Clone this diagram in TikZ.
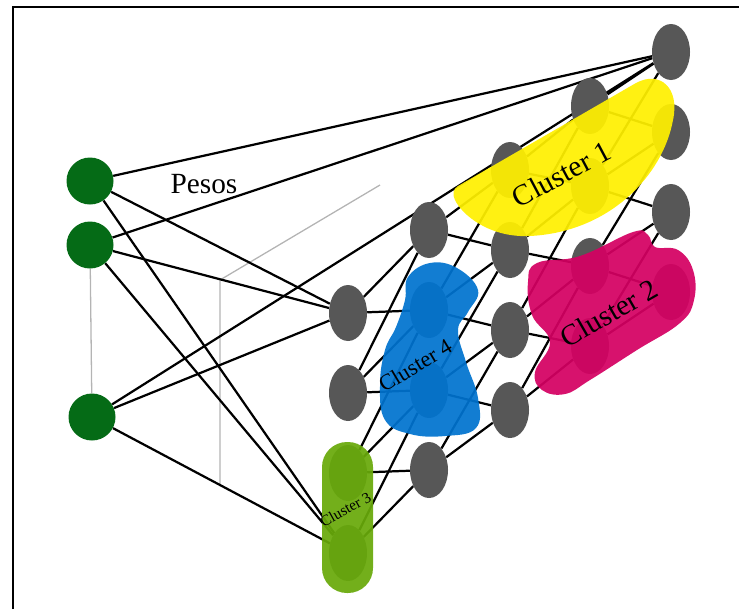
\documentclass[tikz,border=0pt]{standalone}
\usepackage{fontspec}
\setmainfont{Liberation Serif}
\usepackage{tikz}
\usetikzlibrary{shapes.geometric,backgrounds}
\definecolor{Unit}{HTML}{575757}
\definecolor{Input}{HTML}{056B16}
\definecolor{Guide}{HTML}{B4B4B4}
\definecolor{CYellow}{HTML}{FFF000}
\definecolor{CMagenta}{HTML}{D40062}
\definecolor{CBlue}{HTML}{0073CF}
\definecolor{CGreen}{HTML}{68A90A}

\begin{document}
\begin{tikzpicture}[x=0.03cm,y=-0.03cm,
  unit/.style={ellipse,fill=Unit,minimum width=1.14cm,minimum height=1.68cm,inner sep=0pt},
  input/.style={circle,fill=Input,minimum size=1.41cm,inner sep=0pt},
  link/.style={line width=1.9pt},
  guide/.style={Guide,line width=1.1pt},
  blob/.style={opacity=0.93},
  tag/.style={anchor=base,inner sep=0pt}]
\useasboundingbox (0,0) rectangle (739,609);
\draw[line width=2.3pt] (13,609) -- (13,7) -- (739,7);

\node[input] (x1) at (90,181) {};
\node[input] (x2) at (90,245) {};
\node[input] (x3) at (92,417) {};

\foreach \c/\x/\y in {1/348/313, 2/429/230, 3/510/170, 4/590/106, 5/671/52}
  \foreach \r in {1,...,4}
    \node[unit] (n\c\r) at (\x,{\y+80*(\r-1)}) {};

\begin{scope}[on background layer]
\draw[guide] (x2) -- (x3);
\draw[guide] (220,485) -- (220,280) -- (380,185);
\foreach \i in {1,2,3} {
  \draw[link] (x\i) -- (n51);
  \draw[link] (x\i) -- (n11);
  \draw[link] (x\i) -- (n14);
}
\foreach \c in {1,...,5}
  \foreach \r [evaluate=\r as \nr using int(\r+1)] in {1,2,3}
    \draw[link] (n\c\r) -- (n\c\nr);
\foreach \c [evaluate=\c as \nc using int(\c+1)] in {1,...,4} {
  \foreach \r in {1,...,4}
    \draw[link] (n\c\r) -- (n\nc\r);
  \foreach \r [evaluate=\r as \nr using int(\r+1)] in {1,2,3} {
    \draw[link] (n\c\r) -- (n\nc\nr);
    \draw[link] (n\c\nr) -- (n\nc\r);
  }
}
\end{scope}

\fill[CYellow,blob] (458,186) -- (636,83) .. controls (660,70) and (680,88) .. (673,120)
  .. controls (663,175) and (610,232) .. (530,236) .. controls (490,238) and (462,215) .. (455,200)
  .. controls (452,194) and (453,189) .. cycle;
\fill[CMagenta,blob] plot[smooth cycle,tension=0.7] coordinates {(537,263) (580,256) (633,232) (648,235)
  (655,247) (678,250) (693,270) (694,300) (680,323) (637,350) (590,380) (565,394) (542,390)
  (535,372) (550,342) (532,315) (528,282)};
\fill[CBlue,blob] plot[smooth cycle,tension=0.7] coordinates {(408,277) (430,263) (457,268) (478,290)
  (468,312) (458,330) (466,362) (478,398) (476,428) (445,436) (410,434) (385,420) (380,385)
  (385,350) (396,327) (405,300)};
\fill[CGreen,blob,rounded corners=0.75cm] (322,442) rectangle (373,593);

\node[tag,rotate=28,font=\fontsize{25}{25}\selectfont] (c1) at (566,183) {Cluster 1};
\node[tag,rotate=30,font=\fontsize{25}{25}\selectfont] (c2) at (614,322) {Cluster 2};
\node[tag,rotate=29,font=\fontsize{13}{13}\selectfont] (c3) at (348,514) {Cluster 3};
\node[tag,rotate=31,font=\fontsize{19}{19}\selectfont] (c4) at (419,372) {Cluster 4};
\node[tag,font=\fontsize{25}{25}\selectfont] (w) at (204,193) {Pesos};
\end{tikzpicture}
\end{document}
